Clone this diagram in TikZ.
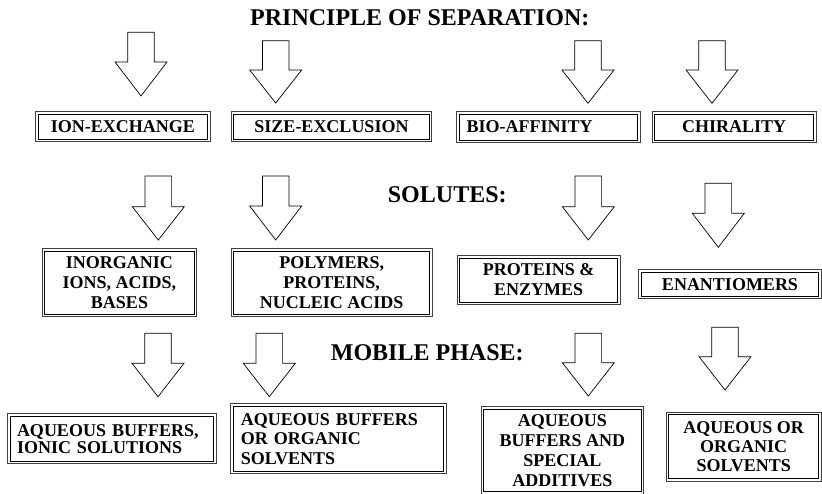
\documentclass[tikz,border=0pt]{standalone}
\usepackage{fontspec}
\setmainfont{Liberation Serif}
\newcommand\boxfont{\fontsize{18}{20}\selectfont\bfseries}
\newcommand\headfont{\fontsize{24}{28}\selectfont\bfseries}
\newcommand\blockarrow[4]{%
  \draw[barrow] (#1-13.3,#2) -- (#1+13.3,#2) -- (#1+13.3,#3) -- (#1+26,#3)
    -- (#1,#4) -- (#1-26,#3) -- (#1-13.3,#3) -- cycle;}
\tikzset{
  bx/.style={draw=black!75, line width=0.9pt, fill=white,
    inner sep=0pt, font=\boxfont, align=center,
    path picture={\draw[black, line width=0.8pt]
      ([shift={(2.6pt,2.6pt)}]path picture bounding box.south west) rectangle
      ([shift={(-2.6pt,-2.6pt)}]path picture bounding box.north east);}},
  barrow/.style={draw=black, fill=white, line width=0.7pt, line join=miter},
  head/.style={font=\headfont, inner sep=0pt, anchor=base west}
}
\begin{document}
\begin{tikzpicture}[x=1pt,y=-1pt]
\useasboundingbox (0,0) rectangle (822,494);

% headings
\node[head] (title) at (250,25.7) {PRINCIPLE OF SEPARATION:};
\node[head] (solutes) at (387.7,203) {SOLUTES:};
\node[head] (mobile) at (330.7,360) {MOBILE PHASE:};

% row 1 arrows
\blockarrow{141}{32.3}{62}{96}
\blockarrow{275.7}{40.7}{70}{103}
\blockarrow{588}{40.7}{70}{103.3}
\blockarrow{712}{40.7}{70}{103.3}

% row 1 boxes
\node[bx, minimum width=174.9pt, minimum height=30.5pt] (ion) at (122.85,126.65) {ION-EXCHANGE};
\node[bx, minimum width=200.8pt, minimum height=30.5pt] (size) at (331.5,126.65) {SIZE-EXCLUSION};
\node[bx, minimum width=183.6pt, minimum height=31.2pt, text width=163.6pt, align=left] (bio) at (548.5,127) {BIO-AFFINITY};
\node[bx, minimum width=164.2pt, minimum height=31.2pt] (chir) at (734.2,127) {CHIRALITY};

% row 2 arrows
\blockarrow{158.3}{176}{206.7}{240}
\blockarrow{275.7}{176}{206}{240}
\blockarrow{588.3}{176}{206.7}{240}
\blockarrow{718.3}{183.3}{213.3}{247.3}

% row 2 boxes
\node[bx, minimum width=154.8pt, minimum height=68.2pt] (inorg) at (119.5,282.8) {INORGANIC\\IONS, ACIDS,\\BASES};
\node[bx, minimum width=201.2pt, minimum height=68.2pt] (poly) at (331.7,282.8) {POLYMERS,\\PROTEINS,\\NUCLEIC ACIDS};
\node[bx, minimum width=163.2pt, minimum height=49.2pt] (prot) at (538.7,280) {PROTEINS \&\\ENZYMES};
\node[bx, minimum width=182.6pt, minimum height=29.2pt] (enant) at (730,284.3) {ENANTIOMERS};

% row 3 arrows
\blockarrow{158}{333.3}{363.3}{396.7}
\blockarrow{269.3}{333.3}{363.3}{396.7}
\blockarrow{588.3}{333.3}{362.7}{396}
\blockarrow{725}{327.3}{356.7}{390}

% row 3 boxes
\node[bx, minimum width=208.6pt, minimum height=49.9pt, text width=190pt, align=left,
      font=\fontsize{18}{17}\selectfont\bfseries] (aq1) at (112,438.65) {AQUEOUS BUFFERS,\\IONIC SOLUTIONS};
\node[bx, minimum width=215.9pt, minimum height=70.2pt, text width=195pt, align=left,
      font=\fontsize{18}{19.5}\selectfont\bfseries] (aq2) at (338.35,438.8) {AQUEOUS BUFFERS\\OR ORGANIC\\SOLVENTS};
\node[bx, minimum width=162.5pt, minimum height=87.2pt] (aq3) at (562.35,450.5) {AQUEOUS\\BUFFERS AND\\SPECIAL\\ADDITIVES};
\node[bx, minimum width=155.2pt, minimum height=69.2pt,
      font=\fontsize{18}{19}\selectfont\bfseries] (aq4) at (743.7,446.7) {AQUEOUS OR\\ORGANIC\\SOLVENTS};
\end{tikzpicture}
\end{document}
